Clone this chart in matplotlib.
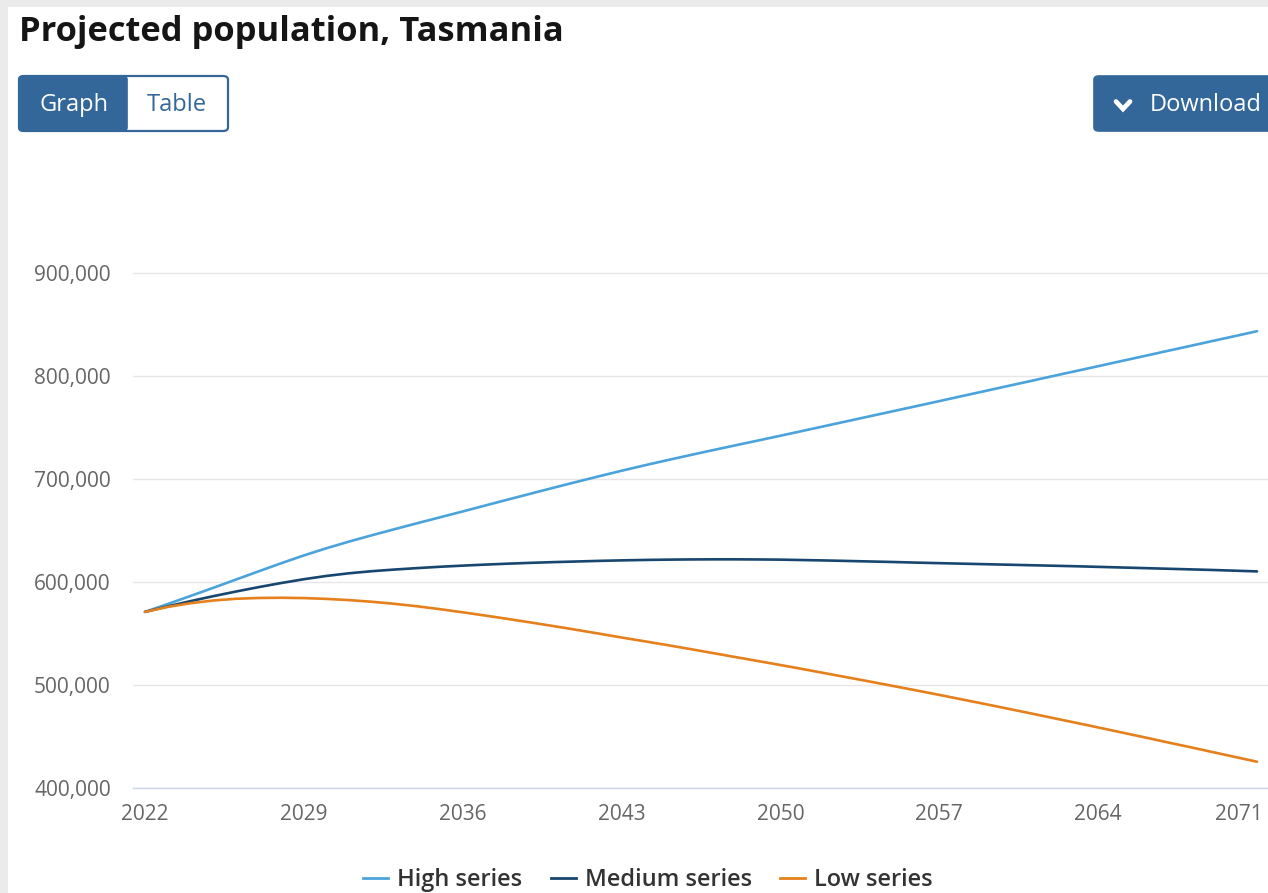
import matplotlib
matplotlib.use("Agg")
import matplotlib.pyplot as plt
from matplotlib.patches import FancyBboxPatch, Rectangle
from matplotlib.lines import Line2D
from matplotlib.ticker import FuncFormatter

plt.rcParams['font.family'] = ['Open Sans', 'DejaVu Sans']

years = list(range(2022, 2072))
# thousands of persons
high_series = [571.0, 578.6, 586.4, 594.3, 602.3, 610.3, 618.2, 625.8, 632.8, 639.3,
               645.4, 651.3, 657.1, 662.8, 668.5, 674.3, 680.1, 685.8, 691.5, 697.1,
               702.6, 708.0, 713.2, 718.2, 723.1, 727.9, 732.6, 737.3, 742.0, 746.8,
               751.6, 756.4, 761.2, 766.0, 770.8, 775.6, 780.5, 785.3, 790.2, 795.0,
               799.9, 804.7, 809.5, 814.4, 819.2, 824.1, 828.9, 833.8, 838.6, 843.5]
medium_series = [571.0, 576.3, 581.4, 586.2, 590.7, 595.0, 599.0, 602.7, 605.9, 608.5,
                 610.5, 612.1, 613.5, 614.8, 615.9, 616.9, 617.8, 618.6, 619.3, 619.9,
                 620.5, 621.0, 621.4, 621.7, 621.9, 622.0, 622.0, 621.9, 621.7, 621.3,
                 620.9, 620.4, 619.9, 619.4, 618.8, 618.3, 617.8, 617.3, 616.8, 616.3,
                 615.8, 615.3, 614.7, 614.1, 613.5, 612.9, 612.3, 611.7, 611.0, 610.3]
low_series = [571.0, 575.8, 579.4, 582.0, 583.7, 584.5, 584.7, 584.4, 583.6, 582.4,
              580.8, 578.8, 576.4, 573.6, 570.6, 567.4, 564.1, 560.7, 557.2, 553.6,
              549.9, 546.1, 542.5, 538.8, 535.0, 531.1, 527.2, 523.3, 519.4, 515.4,
              511.3, 507.2, 503.1, 498.9, 494.7, 490.4, 486.0, 481.6, 477.1, 472.6,
              468.0, 463.4, 458.8, 454.1, 449.4, 444.6, 439.9, 435.1, 430.3, 425.5]
series_names = ["High series", "Medium series", "Low series"]
series_colors = ["#4aa3da", "#17466f", "#e5801c"]
y_ticks = [400000, 500000, 600000, 700000, 800000, 900000]
x_ticks = [2022, 2029, 2036, 2043, 2050, 2057, 2064, 2071]

W, H = 1268, 893
fig = plt.figure(figsize=(W / 100, H / 100), dpi=100)
fig.patch.set_facecolor("white")

def fx(x):
    return x / W

def fy(y):
    return 1 - y / H

# grey page border (left and top strips)
fig.patches.append(Rectangle((0, 0), fx(8), 1, transform=fig.transFigure,
                             facecolor="#ebebeb", edgecolor="none", zorder=0))
fig.patches.append(Rectangle((0, fy(7)), 1, 1 - fy(7), transform=fig.transFigure,
                             facecolor="#ebebeb", edgecolor="none", zorder=0))

# title
fig.text(fx(19), fy(41), "Projected population, Tasmania", fontsize=24.8,
         fontweight="bold", color="#151515", ha="left", va="baseline")

# Graph / Table buttons
btn_blue = "#336699"
fig.patches.append(FancyBboxPatch((fx(19), fy(131)), fx(209), fy(76) - fy(131),
                                  boxstyle="round,pad=0,rounding_size=0.004",
                                  transform=fig.transFigure, facecolor="white",
                                  edgecolor=btn_blue, linewidth=1.6, zorder=1))
fig.patches.append(FancyBboxPatch((fx(19), fy(131)), fx(108), fy(76) - fy(131),
                                  boxstyle="round,pad=0,rounding_size=0.004",
                                  transform=fig.transFigure, facecolor=btn_blue,
                                  edgecolor=btn_blue, linewidth=1.2, zorder=2))
fig.patches.append(Rectangle((fx(110), fy(131)), fx(17), fy(76) - fy(131),
                             transform=fig.transFigure, facecolor=btn_blue,
                             edgecolor="none", zorder=2))
fig.text(fx(74), fy(105), "Graph", fontsize=17, color="white", ha="center",
         va="center", zorder=3)
fig.text(fx(177), fy(105), "Table", fontsize=17, color=btn_blue, ha="center",
         va="center", zorder=3)

# Download button
fig.patches.append(FancyBboxPatch((fx(1094), fy(131)), fx(200), fy(76) - fy(131),
                                  boxstyle="round,pad=0,rounding_size=0.004",
                                  transform=fig.transFigure, facecolor=btn_blue,
                                  edgecolor=btn_blue, linewidth=1.2, zorder=2))
fig.lines.append(Line2D([fx(1116), fx(1123), fx(1130)], [fy(101.5), fy(109), fy(101.5)],
                        transform=fig.transFigure, color="white", linewidth=3.4,
                        solid_capstyle="round", solid_joinstyle="miter", zorder=3))
fig.text(fx(1150), fy(105), "Download", fontsize=17, color="white", ha="left",
         va="center", zorder=3)

# axes
ppy = (1257 - 145) / 49.0
x0 = 2022 - (145 - 133) / ppy
x1 = 2071 + (1268 - 1257) / ppy
ppv = (788 - 273) / 500000.0
ax_top_px = 200
ymax = 900000 + (273 - ax_top_px) / ppv
ax = fig.add_axes([fx(133), fy(788), fx(1268) - fx(133), fy(ax_top_px) - fy(788)])
ax.set_zorder(5)
ax.set_facecolor("none")
ax.set_xlim(x0, x1)
ax.set_ylim(400000, ymax)

for vals, name, col in zip([high_series, medium_series, low_series], series_names, series_colors):
    ax.plot(years, [v * 1000 for v in vals], color=col, linewidth=1.9, label=name,
            solid_capstyle="round", solid_joinstyle="round", zorder=3)

ax.set_yticks(y_ticks)
ax.yaxis.set_major_formatter(FuncFormatter(lambda v, p: f"{int(v):,}"))
ax.set_xticks(x_ticks)
# last label is kept inside the chart area (shifted left like the original)
ax.set_xticklabels([str(t) for t in x_ticks[:-1]] + [""])
ax.annotate(str(x_ticks[-1]), xy=(x_ticks[-1], 0), xycoords=ax.get_xaxis_transform(),
            xytext=(6, -11.2 * 100 / 72), textcoords="offset pixels", ha="right", va="top",
            fontsize=15, color="#666666", annotation_clip=False)
ax.grid(axis="y", color="#e6e6e6", linewidth=1.0)
ax.set_axisbelow(True)
for s in ["top", "right", "left"]:
    ax.spines[s].set_visible(False)
ax.spines["bottom"].set_color("#ccd6eb")
ax.spines["bottom"].set_linewidth(1.0)
ax.tick_params(axis="y", length=0, pad=16, labelsize=15, labelcolor="#666666")
ax.tick_params(axis="x", length=0, pad=11.2, labelsize=15, labelcolor="#666666")

# legend
handles = [Line2D([], [], color=c, linewidth=2.0) for c in series_colors]
leg = fig.legend(handles, series_names, loc="center", bbox_to_anchor=(fx(648), fy(880)),
                 ncol=3, frameon=False, handlelength=1.06, handletextpad=0.38,
                 columnspacing=1.19, prop={"size": 17, "weight": "semibold"})
for t in leg.get_texts():
    t.set_color("#333333")

fig.savefig("out.png", dpi=100, facecolor=fig.get_facecolor())
